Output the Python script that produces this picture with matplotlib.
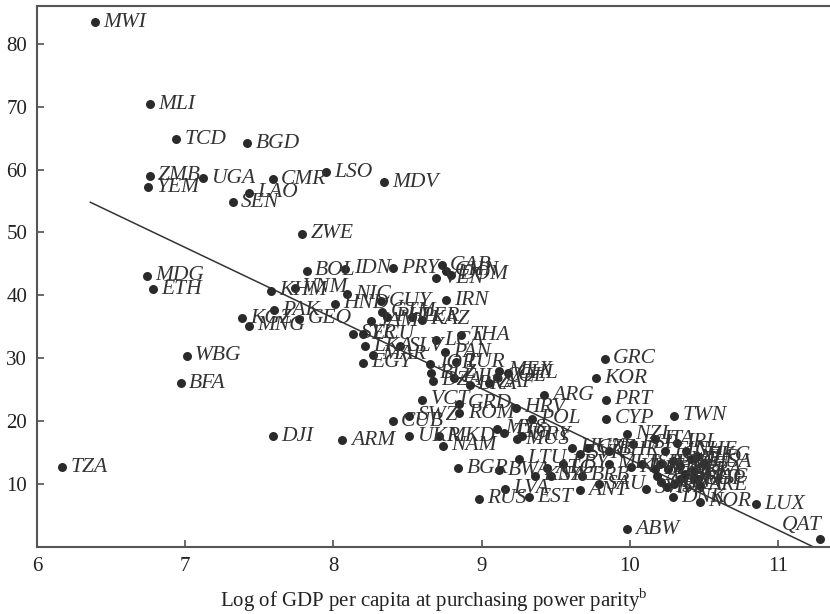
import matplotlib
matplotlib.use("Agg")
import matplotlib.pyplot as plt

plt.rcParams['font.family'] = ['Liberation Serif', 'DejaVu Serif']
plt.rcParams['mathtext.fontset'] = 'custom'
plt.rcParams['mathtext.rm'] = 'Liberation Serif'

# country codes, log GDP per capita (PPP), y value
codes = ['MWI', 'MLI', 'TCD', 'BGD', 'ZMB', 'YEM', 'UGA', 'CMR', 'LSO', 'MDV',
         'LAO', 'SEN', 'ZWE', 'MDG', 'ETH', 'BOL', 'IDN', 'PRY', 'GAB', 'CHN',
         'DOM', 'VEN', 'KHM', 'VNM', 'NIC', 'HND', 'GUY', 'IRN', 'PAK', 'KGZ',
         'MNG', 'GEO', 'GTM', 'PHL', 'PER', 'KAZ', 'JAM', 'SYR', 'ECU', 'LKA',
         'SLV', 'LCA', 'THA', 'PAN', 'MAR', 'EGY', 'JOR', 'TUR', 'BLZ', 'DZA',
         'FJI', 'BRA', 'ZAF', 'MEX', 'CHL', 'COL', 'ARG', 'GRC', 'KOR', 'PRT',
         'CYP', 'TWN', 'VCT', 'GRD', 'ROM', 'HRV', 'POL', 'SWZ', 'CUB', 'UKR',
         'MKD', 'NAM', 'BGR', 'BWA', 'RUS', 'LVA', 'EST', 'LTU', 'MYS', 'TTO',
         'MUS', 'URY', 'HUN', 'CZE', 'SVK', 'BHR', 'MLT', 'KNA', 'ATG', 'LBY',
         'SYC', 'BRB', 'SAU', 'ANT', 'SVN', 'ABW', 'NZL', 'ESP', 'ITA', 'IRL',
         'FIN', 'KWT', 'ISR', 'JPN', 'AUS', 'CAN', 'GBR', 'SWE', 'AUT', 'BEL',
         'NLD', 'FRA', 'DEU', 'ISL', 'SGP', 'HKG', 'CHE', 'USA', 'ARE', 'BHS',
         'BRN', 'MAC', 'DNK', 'NOR', 'LUX', 'QAT', 'WBG', 'BFA', 'DJI', 'ARM',
         'TZA']
log_gdp = [6.39, 6.76, 6.94, 7.42, 6.76, 6.75, 7.12, 7.59, 7.95, 8.34,
           7.43, 7.32, 7.79, 6.74, 6.78, 7.82, 8.08, 8.40, 8.73, 8.76,
           8.79, 8.69, 7.58, 7.74, 8.09, 8.01, 8.32, 8.76, 7.60, 7.38,
           7.43, 7.77, 8.33, 8.36, 8.53, 8.60, 8.25, 8.13, 8.20, 8.21,
           8.45, 8.69, 8.86, 8.75, 8.27, 8.20, 8.65, 8.83, 8.66, 8.67,
           8.81, 8.92, 9.05, 9.12, 9.18, 9.10, 9.42, 9.83, 9.77, 9.84,
           9.84, 10.30, 8.60, 8.85, 8.85, 9.23, 9.34, 8.51, 8.40, 8.51,
           8.71, 8.74, 8.84, 9.12, 8.98, 9.16, 9.32, 9.25, 9.10, 9.15,
           9.24, 9.27, 9.61, 9.72, 9.66, 9.86, 9.86, 9.36, 9.44, 9.55,
           9.47, 9.68, 9.79, 9.66, 10.11, 9.98, 9.98, 10.02, 10.17, 10.32,
           10.24, 10.01, 10.08, 10.20, 10.18, 10.21, 10.26, 10.29, 10.34, 10.37,
           10.41, 10.43, 10.34, 10.25, 10.46, 10.45, 10.38, 10.50, 10.47, 10.17,
           10.30, 10.43, 10.29, 10.47, 10.85, 11.28, 7.01, 6.97, 7.59, 8.06,
           6.17]
share = [83.4, 70.4, 64.8, 64.2, 59.0, 57.2, 58.6, 58.5, 59.6, 58.0,
         56.3, 54.8, 49.8, 43.1, 41.0, 43.9, 44.2, 44.3, 44.8, 43.9,
         43.3, 42.7, 40.7, 41.2, 40.2, 38.7, 39.1, 39.2, 37.6, 36.4,
         35.2, 36.3, 37.4, 36.6, 36.6, 36.1, 35.9, 33.9, 33.8, 31.9,
         31.9, 32.9, 33.7, 31.0, 30.6, 29.3, 29.1, 29.4, 27.6, 26.4,
         26.9, 25.8, 26.1, 28.0, 27.6, 27.1, 24.1, 29.9, 26.8, 23.4,
         20.4, 20.9, 23.4, 22.8, 21.3, 22.1, 20.4, 20.9, 20.0, 17.6,
         17.6, 16.1, 12.5, 12.2, 7.7, 9.3, 7.9, 14.0, 18.8, 18.2,
         17.1, 17.7, 15.8, 15.7, 14.8, 15.3, 13.2, 11.3, 12.5, 13.2,
         11.3, 11.3, 10.0, 9.0, 9.3, 2.8, 17.9, 16.4, 17.1, 16.6,
         15.3, 12.7, 13.2, 13.2, 11.3, 10.3, 12.4, 13.7, 12.9, 11.6,
         14.0, 12.1, 10.8, 9.5, 10.8, 14.5, 15.3, 13.4, 9.7, 12.4,
         10.0, 11.0, 7.9, 7.2, 6.8, 1.3, 30.4, 26.0, 17.6, 17.0,
         12.7]

# fitted line
fit_x = [6.36, 11.35]
fit_intercept = 54.8   # value at x = 6.36
fit_slope = -11.23

xticks = [6, 7, 8, 9, 10, 11]
yticks = [10, 20, 30, 40, 50, 60, 70, 80]

fig = plt.figure(figsize=(8.3, 6.14), dpi=100)
ax = fig.add_axes([0.0446, 0.1091, 0.9554, 0.8811])

ax.scatter(log_gdp, share, s=42, color='#2a2a2a', zorder=3, linewidths=0)
fit_y = [fit_intercept + fit_slope * (x - fit_x[0]) for x in fit_x]
ax.plot(fit_x, fit_y, color='#333333', lw=1.1, zorder=2)

for c, x, y in zip(codes, log_gdp, share):
    if c == 'QAT':
        ax.annotate(c, (x, y), xytext=(1.5, 9.5), textcoords='offset points',
                    ha='right', va='center', fontsize=15.5, style='italic',
                    color='#333333', annotation_clip=False)
    else:
        ax.annotate(c, (x, y), xytext=(6, 0), textcoords='offset points',
                    ha='left', va='center', fontsize=15.5, style='italic',
                    color='#333333', annotation_clip=False)

ax.set_xlim(6, 11.35)
ax.set_ylim(0, 86)
ax.set_xticks(xticks)
ax.set_yticks(yticks)
ax.tick_params(direction='in', length=5, width=1.1, color='#444444',
               labelsize=15, labelcolor='#222222', pad=7)
for side in ['left', 'bottom', 'top']:
    ax.spines[side].set_color('#555555')
    ax.spines[side].set_linewidth(1.5)
ax.spines['right'].set_visible(False)

ax.set_xlabel('Log of GDP per capita at purchasing power parity$^{\\mathrm{b}}$',
              fontsize=15, color='#222222', labelpad=8)

fig.savefig('out.png', dpi=100)
